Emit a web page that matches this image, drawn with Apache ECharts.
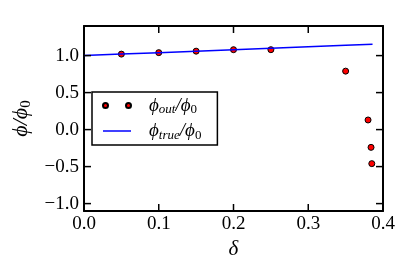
<!DOCTYPE html>
<html><head><meta charset="utf-8">
<script src="https://cdn.jsdelivr.net/npm/echarts@6/dist/echarts.min.js"></script>
<style>html,body{margin:0;padding:0;background:#fff}#c{width:399px;height:268px}</style>
</head><body><div id="c"></div>
<script>
// data
const outX = [0.05, 0.10, 0.15, 0.20, 0.25, 0.35, 0.380, 0.384, 0.385];
const outY = [1.02, 1.04, 1.06, 1.08, 1.08, 0.79, 0.13, -0.24, -0.46];
const trueX = [0.0, 0.05, 0.10, 0.15, 0.20, 0.25, 0.30, 0.35, 0.386];
const trueY = [1.00, 1.02, 1.04, 1.06, 1.08, 1.10, 1.12, 1.14, 1.153];
const yTicks = [-1.0, -0.5, 0.0, 0.5, 1.0];
const xTicks = [0.0, 0.1, 0.2, 0.3, 0.4];
const xMin = 0, xMax = 0.4, yMin = -1.1, yMax = 1.4;

const serif = '"Liberation Serif", "DejaVu Serif", serif';
const fmt = v => (v < 0 ? '\u2212' : '') + Math.abs(v).toFixed(1);
const PHI = '\u03d5';
const rich = {
  m: {fontFamily: serif, fontSize: 19, fontStyle: 'italic', color: '#000'},
  s: {fontFamily: serif, fontSize: 13, fontStyle: 'italic', color: '#000', verticalAlign: 'bottom', padding: [9, 0, 0, 0]},
  z: {fontFamily: serif, fontSize: 13, color: '#000', verticalAlign: 'bottom', padding: [9, 0, 0, 0]}
};
const names = {out: '{m|' + PHI + '}{s|out}{m|/' + PHI + '}{z|0}', tru: '{m|' + PHI + '}{s|true}{m|/' + PHI + '}{z|0}'};

const TL = 7;
const tickStyle = {stroke: '#000', lineWidth: 1.5};
const frame = {show: true, onZero: false, lineStyle: {color: '#000', width: 2}};
const chart = echarts.init(document.getElementById('c'), null, {renderer: 'canvas'});
chart.setOption({
  animation: false,
  backgroundColor: '#fff',
  grid: {left: 84, right: 16, top: 26, bottom: 57},
  legend: {
    orient: 'vertical', left: 92, top: 92, z: 10,
    backgroundColor: '#fff', borderColor: '#000', borderWidth: 1.5, borderRadius: 0,
    padding: [4, 16, 3, 10], itemGap: 5, itemWidth: 28, itemHeight: 5,
    data: [
      {name: 'out', icon: 'path://M0,2.5a2.5,2.5 0 1,0 5,0a2.5,2.5 0 1,0 -5,0M23,2.5a2.5,2.5 0 1,0 5,0a2.5,2.5 0 1,0 -5,0'},
      {name: 'tru', icon: 'path://M0,0L28,0L28,1.5L0,1.5Z'}
    ],
    formatter: n => names[n],
    textStyle: {rich: rich, padding: [0, 0, 0, 13]}
  },
  xAxis: [{
    type: 'value', min: xMin, max: xMax, interval: 0.1,
    axisLine: frame, splitLine: {show: false}, axisTick: {show: false},
    axisLabel: {margin: 4, color: '#000', fontFamily: serif, fontSize: 19, formatter: fmt},
    name: '\u03b4', nameLocation: 'middle', nameGap: 26,
    nameTextStyle: {fontFamily: serif, fontSize: 21, fontStyle: 'italic', color: '#000'}
  }, {
    type: 'value', position: 'top', min: xMin, max: xMax, interval: 0.1,
    axisLine: frame, splitLine: {show: false}, axisTick: {show: false},
    axisLabel: {show: false}
  }],
  yAxis: [{
    type: 'value', min: yMin, max: yMax,
    axisLine: frame, splitLine: {show: false}, axisTick: {show: false},
    axisLabel: {margin: 5, color: '#000', fontFamily: serif, fontSize: 19, customValues: yTicks, formatter: fmt},
    name: '{m|' + PHI + '/' + PHI + '}{z|0}', nameLocation: 'middle', nameGap: 48, nameRotate: 90,
    nameTextStyle: {rich: {
      m: {fontFamily: serif, fontSize: 22, fontStyle: 'italic', color: '#000'},
      z: {fontFamily: serif, fontSize: 15, color: '#000', verticalAlign: 'bottom', padding: [10, 0, 0, 0]}
    }}
  }, {
    type: 'value', position: 'right', min: yMin, max: yMax,
    axisLine: frame, splitLine: {show: false}, axisTick: {show: false},
    axisLabel: {show: false}
  }],
  series: [{
    name: 'xticks', type: 'custom', clip: false, silent: true, z: 5,
    data: xTicks.map(v => [v, yMin]),
    renderItem: (params, api) => {
      const v = api.value(0);
      const b = api.coord([v, yMin]), t = api.coord([v, yMax]);
      return {type: 'group', children: [
        {type: 'line', shape: {x1: b[0], y1: b[1], x2: b[0], y2: b[1] - TL}, style: tickStyle},
        {type: 'line', shape: {x1: t[0], y1: t[1], x2: t[0], y2: t[1] + TL}, style: tickStyle}
      ]};
    }
  }, {
    name: 'yticks', type: 'custom', clip: false, silent: true, z: 5,
    data: yTicks.map(v => [xMin, v]),
    renderItem: (params, api) => {
      const v = api.value(1);
      const l = api.coord([xMin, v]), r = api.coord([xMax, v]);
      return {type: 'group', children: [
        {type: 'line', shape: {x1: l[0], y1: l[1], x2: l[0] + TL, y2: l[1]}, style: tickStyle},
        {type: 'line', shape: {x1: r[0], y1: r[1], x2: r[0] - TL, y2: r[1]}, style: tickStyle}
      ]};
    }
  }, {
    name: 'out', type: 'scatter', symbol: 'circle', symbolSize: 6, z: 2,
    itemStyle: {color: '#ff0000', borderColor: '#000', borderWidth: 1, opacity: 1},
    data: outX.map((x, i) => [x, outY[i]])
  }, {
    name: 'tru', type: 'line', symbol: 'none', z: 3,
    lineStyle: {color: '#0000ff', width: 1.5}, itemStyle: {color: '#0000ff'},
    data: trueX.map((x, i) => [x, trueY[i]])
  }]
});
</script></body></html>
